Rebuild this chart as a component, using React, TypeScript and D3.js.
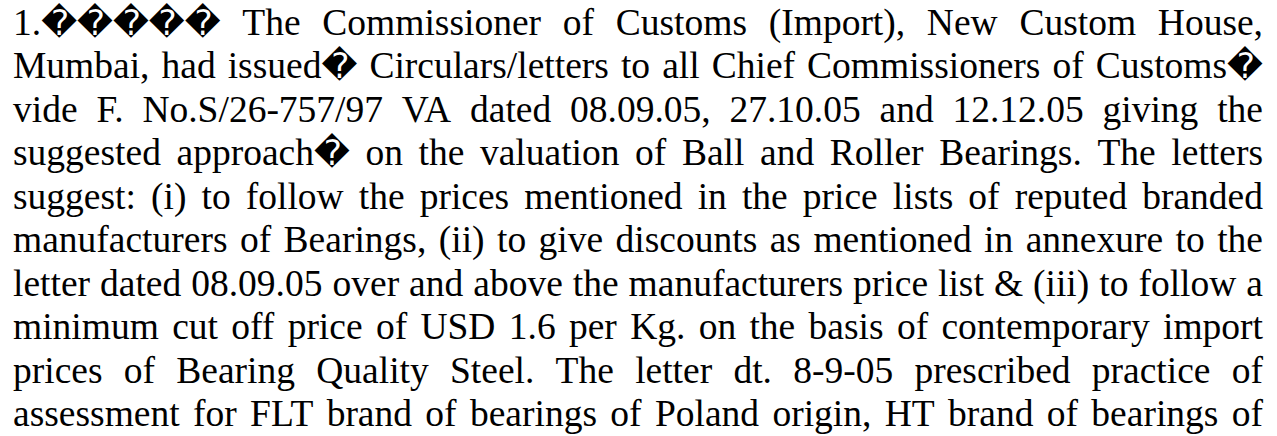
import React, { useEffect, useRef } from 'react';
import * as d3 from 'd3';

// Paragraph lines as they break in the reference
const lines = [
  '1.\uFFFD\uFFFD\uFFFD\uFFFD\uFFFD The Commissioner of Customs (Import), New Custom House,',
  'Mumbai, had issued\uFFFD Circulars/letters to all Chief Commissioners of Customs\uFFFD',
  'vide F. No.S/26-757/97 VA dated 08.09.05, 27.10.05 and 12.12.05 giving the',
  'suggested approach\uFFFD on the valuation of Ball and Roller Bearings. The letters',
  'suggest: (i) to follow the prices mentioned in the price lists of reputed branded',
  'manufacturers of Bearings, (ii) to give discounts as mentioned in annexure to the',
  'letter dated 08.09.05 over and above the manufacturers price list & (iii) to follow a',
  'minimum cut off price of USD 1.6 per Kg. on the basis of contemporary import',
  'prices of Bearing Quality Steel. The letter dt. 8-9-05 prescribed practice of',
  'assessment for FLT brand of bearings of Poland origin, HT brand of bearings of',
];

const REPL = '\uFFFD';

export default function App() {
  const svgRef = useRef<SVGSVGElement>(null);

  useEffect(() => {
    if (!svgRef.current) return;
    const width = 1277;
    const height = 436;
    const left = 13;
    const right = 1263;
    const fontSize = 37.5;

    const svg = d3.select(svgRef.current);
    svg.selectAll('*').remove();
    svg.attr('width', width).attr('height', height);

    svg.append('rect').attr('width', width).attr('height', height).attr('fill', '#ffffff');

    // baseline of each line
    const y = d3.scaleLinear().domain([0, lines.length - 1]).range([35, 426]);

    const g = svg.append('g')
      .style('font-family', '"Liberation Serif", "Times New Roman", serif')
      .style('font-size', `${fontSize}px`)
      .attr('fill', '#000000');

    lines.forEach((line, i) => {
      const words = line.split(' ');
      const row = g.append('g');
      const nodes = words.map(w => {
        const t = row.append('text').attr('y', y(i));
        // split the word into plain runs and replacement-character runs
        const parts = w.split(/(\uFFFD+)/).filter(p => p.length > 0);
        parts.forEach(p => {
          const ts = t.append('tspan').text(p);
          if (p[0] === REPL) {
            ts.style('font-family', '"DejaVu Sans", sans-serif').style('font-size', '35px');
          }
        });
        return t;
      });
      const widths = nodes.map(n => (n.node() as SVGTextElement).getComputedTextLength());
      const total = d3.sum(widths);
      const gap = words.length > 1 ? (right - left - total) / (words.length - 1) : 0;
      let x = left;
      nodes.forEach((n, k) => {
        n.attr('x', x);
        x += widths[k] + gap;
      });
    });
  }, []);

  return (
    <svg ref={svgRef} style={{ position: 'absolute', top: 0, left: 0, display: 'block' }}></svg>
  );
}
